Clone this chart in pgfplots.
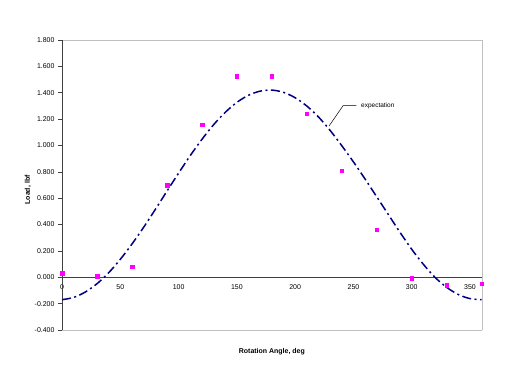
\documentclass[border=0pt]{standalone}
\usepackage{pgfplots}
\pgfplotsset{compat=1.18}
\usepackage{fontspec}
\setmainfont{Liberation Sans}
\definecolor{curvenavy}{HTML}{000080}
\definecolor{ptmag}{HTML}{FF00FF}
\definecolor{framegray}{HTML}{C0C0C0}
\begin{document}
\begin{tikzpicture}
\path[use as bounding box] (-62bp,-54bp) rectangle (449bp,330bp);
\begin{axis}[
  at={(0,0)}, anchor=south west,
  scale only axis, width=419.7bp, height=290bp,
  xmin=0, xmax=360, ymin=-0.4, ymax=1.8,
  clip=false,
  separate axis lines,
  x axis line style={draw=framegray},
  y axis line style={draw=framegray},
  xtick={0,50,100,150,200,250,300,350},
  ytick={-0.4,-0.2,0,0.2,0.4,0.6,0.8,1.0,1.2,1.4,1.6,1.8},
  ytick pos=left, xtick pos=bottom,
  tick align=outside,
  major tick length=4bp,
  x tick style={draw=none},
  y tick style={draw=black!75, line width=0.6bp},
  xticklabel style={font=\fontsize{7}{8}\selectfont, yshift=52.7bp, /pgf/number format/assume math mode=true},
  yticklabel style={font=\fontsize{7}{8}\selectfont, /pgf/number format/.cd, fixed, fixed zerofill, precision=3, assume math mode=true},
  every axis x label/.style={at={(rel axis cs:0.5,0)}, anchor=north, yshift=-15bp, font=\bfseries\fontsize{7}{8}\selectfont},
  every axis y label/.style={at={(rel axis cs:0,0.483)}, anchor=center, rotate=90, yshift=34bp, font=\bfseries\fontsize{7}{8}\selectfont},
  xlabel={Rotation Angle, deg},
  ylabel={Load, lbf},
]
\draw[black!75, line width=0.8bp] (rel axis cs:0,0) -- (rel axis cs:0,1);
\draw[black!75, line width=0.8bp] (axis cs:0,0) -- (axis cs:360,0);
\addplot[only marks, mark=square*, mark size=1.8bp, color=ptmag] coordinates {
(0,0.033) (30,0.010) (60,0.080) (90,0.700) (120,1.158) (150,1.527) (180,1.527)
(210,1.241) (240,0.809) (270,0.361) (300,-0.005) (330,-0.058) (360,-0.048)
};
\addplot[curvenavy, line width=1.5bp, smooth, dash pattern=on 9bp off 3.5bp on 2bp off 3.5bp] coordinates {
(0,-0.170) (10,-0.153) (20,-0.112) (30,-0.049) (40,0.034) (50,0.136) (60,0.252)
(70,0.379) (80,0.514) (90,0.653) (100,0.790) (110,0.923) (120,1.046) (130,1.157)
(140,1.251) (150,1.327) (160,1.381) (170,1.412) (180,1.420) (190,1.403) (200,1.362)
(210,1.299) (220,1.216) (230,1.114) (240,0.998) (250,0.875) (260,0.745) (270,0.610)
(280,0.475) (290,0.340) (300,0.212) (310,0.098) (320,-0.001) (330,-0.077)
(340,-0.131) (350,-0.162) (360,-0.170)
};
\draw[black, line width=0.5bp] (axis cs:229.1,1.148) -- (axis cs:241.1,1.302) -- (axis cs:252.6,1.302);
\node[anchor=west, inner sep=0pt, font=\fontsize{6.5}{8}\selectfont] at (axis cs:256.5,1.302) {expectation};
\end{axis}
\end{tikzpicture}
\end{document}
